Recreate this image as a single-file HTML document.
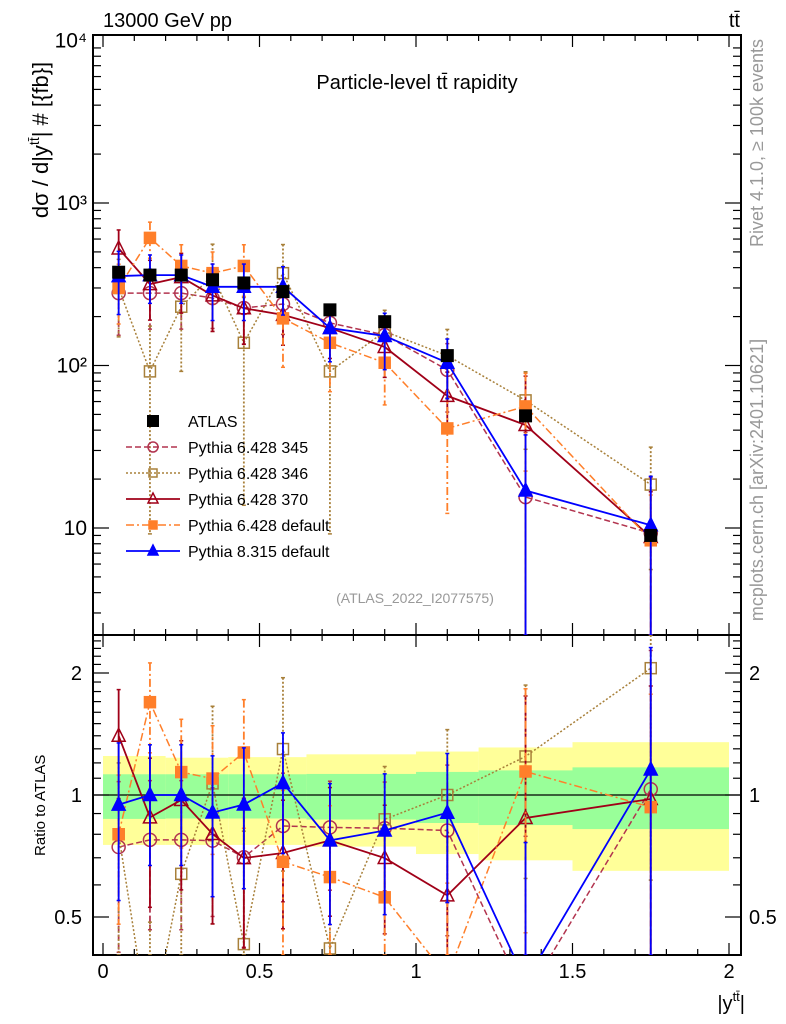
<!DOCTYPE html>
<html><head><meta charset="utf-8"><style>
html,body{margin:0;padding:0;background:#fff;}
svg{display:block;font-family:"Liberation Sans",sans-serif;}
</style></head><body>
<svg id="chart" width="786" height="1024" viewBox="0 0 786 1024" xmlns="http://www.w3.org/2000/svg">
<g id="bands"></g>
<g id="grid"></g>
<g id="series"></g>
<g id="legend"></g>
<text x="103" y="27" font-size="20">13000 GeV pp</text>
<text x="740" y="27" font-size="20" text-anchor="end">tt̄</text>
<text x="417" y="89" font-size="20" text-anchor="middle">Particle-level tt̄ rapidity</text>
<text x="415" y="603" font-size="14" fill="#999" text-anchor="middle">(ATLAS_2022_I2077575)</text>
<text transform="translate(763,143) rotate(-90)" font-size="18" fill="#999" text-anchor="middle">Rivet 4.1.0, ≥ 100k events</text>
<text transform="translate(763,480) rotate(-90)" font-size="18" fill="#999" text-anchor="middle">mcplots.cern.ch [arXiv:2401.10621]</text>
<text transform="translate(48,140) rotate(-90)" font-size="22" text-anchor="middle">dσ / d|y<tspan font-size="14" dy="-9">tt̄</tspan><tspan dy="9">| # [{fb}]</tspan></text>
<text transform="translate(45,856) rotate(-90)" font-size="15">Ratio to ATLAS</text>
<text x="745" y="1010" font-size="20" text-anchor="end">|y<tspan font-size="13" dy="-9">tt̄</tspan><tspan dy="9">|</tspan></text>
</svg>
<script>
const xCenters=[0.05,0.15,0.25,0.35,0.45,0.575,0.725,0.9,1.1,1.35,1.75];
const atlas=[375,360,360,337,322,285,220,186,115,49,9.0];
const p345=[279,279,279,260,226,239,183,154,94,15.5,9.3];
const p346=[300,92,230,360,138,370,92,162,115,61,18.5];
const p370=[525,317,350,270,225,205,170,130,65,43,8.8];
const p6def=[300,610,410,370,410,195,138,104,41,56,8.4];
const p8=[355,360,360,305,305,305,170,152,104,17,10.4];
const e345=[0.45,0.4,0.4,0.35,0.4,0.35,0.3,0.3,0.45,1.5,1.2];
const e346=[0.5,0.9,0.6,0.55,0.9,0.5,0.9,0.35,0.45,0.5,0.7];
const e370=[0.3,0.4,0.4,0.4,0.4,0.35,0.35,0.35,0.4,1.0,0.9];
const e6def=[0.4,0.25,0.35,0.35,0.35,0.5,0.5,0.45,0.7,0.6,0.9];
const e8=[0.42,0.33,0.33,0.38,0.38,0.33,0.38,0.38,0.4,1.2,1.0];
const bandEdges=[0,0.2,0.4,0.65,1.0,1.2,1.5,2.0];
const greenUp=[1.125,1.125,1.125,1.127,1.14,1.15,1.17];
const greenLo=[0.873,0.875,0.875,0.87,0.853,0.843,0.824];
const yellowUp=[1.248,1.236,1.24,1.26,1.28,1.31,1.35];
const yellowLo=[0.753,0.753,0.753,0.746,0.715,0.69,0.65];
const xTicks=[0,0.5,1,1.5,2];
const mainTicks=[10,100,1000,10000];
const mainTickLabels=["10","10²","10³","10⁴"];
const ratioTicks=[0.5,1,2];
const ratioTickLabels=["0.5","1","2"];

const NS="http://www.w3.org/2000/svg";
const L=93,R=741,T=35,M=635,B=955;
const X=v=>103+v*313;
const Y=v=>528-(Math.log10(v)-1)*162.5;
const YR=v=>795-Math.log2(v)*122;
const yMainMin=Math.pow(10,1-(M-528)/162.5);
const rMin=Math.pow(2,-(B-795)/122), rMax=Math.pow(2,(795-M)/122);
function mk(tag,attrs,parent){const e=document.createElementNS(NS,tag);for(const k in attrs)e.setAttribute(k,attrs[k]);parent.appendChild(e);return e;}
const gB=document.getElementById('bands'),gG=document.getElementById('grid'),gS=document.getElementById('series'),gL=document.getElementById('legend');

for(let i=0;i<bandEdges.length-1;i++){
  const x0=X(bandEdges[i]),x1=X(bandEdges[i+1]);
  const y=mk('rect',{x:x0,y:YR(yellowUp[i]),width:x1-x0,height:YR(yellowLo[i])-YR(yellowUp[i]),fill:'#ffff99'},gB);
  
  
  const g=mk('rect',{x:x0,y:YR(greenUp[i]),width:x1-x0,height:YR(greenLo[i])-YR(greenUp[i]),fill:'#99ff99'},gB);
  
  
}
mk('line',{x1:L,x2:R,y1:YR(1),y2:YR(1),stroke:'#000','stroke-width':1.2},gG);
mk('rect',{x:L,y:T,width:R-L,height:M-T,fill:'none',stroke:'#000','stroke-width':2},gG);
mk('rect',{x:L,y:M,width:R-L,height:B-M,fill:'none',stroke:'#000','stroke-width':2},gG);
for(let k=0;k<=20;k++){const v=k/10,x=X(v),big=k%5===0?12:6;
  [[T,1],[M,-1],[M,1],[B,-1]].forEach(([y0,d])=>mk('line',{x1:x,x2:x,y1:y0,y2:y0+d*big,stroke:'#000','stroke-width':1.2},gG));}
xTicks.forEach(v=>{const t=mk('text',{x:X(v),y:978,'font-size':20,'text-anchor':'middle'},gG);t.textContent=String(v);
  
  });
for(let d=0;d<4;d++)for(let m=1;m<10;m++){const v=Math.pow(10,d)*m;if(v<yMainMin||v>10000)continue;const y=Y(v),len=m===1?16:8;
  mk('line',{x1:L,x2:L+len,y1:y,y2:y,stroke:'#000','stroke-width':1.2},gG);mk('line',{x1:R,x2:R-len,y1:y,y2:y,stroke:'#000','stroke-width':1.2},gG);}
mainTicks.forEach((v,i)=>{const t=mk('text',{x:87,y:Y(v)+7,'font-size':21,'text-anchor':'end'},gG);t.textContent=mainTickLabels[i];
  
  });
for(let v=0.4;v<=2.5;v+=0.1){const r=Math.round(v*10)/10;if(r<rMin||r>rMax)continue;const y=YR(r),len=(r===0.5||r===1||r===2)?16:8;
  mk('line',{x1:L,x2:L+len,y1:y,y2:y,stroke:'#000','stroke-width':1.2},gG);mk('line',{x1:R,x2:R-len,y1:y,y2:y,stroke:'#000','stroke-width':1.2},gG);}
ratioTicks.forEach((v,i)=>{[[82,'end'],[749,'start']].forEach(([x,a])=>{const t=mk('text',{x:x,y:YR(v)+7,'font-size':20,'text-anchor':a},gG);t.textContent=ratioTickLabels[i];
  
  });});

const defs=[
 {name:'pythia-6-345',label:'Pythia 6.428 345',vals:p345,err:e345,color:'#b2344f',dash:'6,3',marker:'circle',fill:'none',w:1.5},
 {name:'pythia-6-346',label:'Pythia 6.428 346',vals:p346,err:e346,color:'#a8803a',dash:'2,2',marker:'square',fill:'none',w:1.5},
 {name:'pythia-6-370',label:'Pythia 6.428 370',vals:p370,err:e370,color:'#a00018',dash:'',marker:'triangle',fill:'none',w:1.8},
 {name:'pythia-6-default',label:'Pythia 6.428 default',vals:p6def,err:e6def,color:'#ff7f2a',dash:'8,3,2,3',marker:'square',fill:'#ff7f2a',w:1.5},
 {name:'pythia-8-default',label:'Pythia 8.315 default',vals:p8,err:e8,color:'#0000ff',dash:'',marker:'triangle',fill:'#0000ff',w:1.8}
];
function marker(type,x,y,col,fill,parent,small){
  const s=small?5:6.5;
  if(type==='circle')return mk('circle',{cx:x,cy:y,r:s,fill:fill,stroke:col,'stroke-width':1.5},parent);
  if(type==='square')return mk('rect',{x:x-s+1,y:y-s+1,width:2*s-2,height:2*s-2,fill:fill,stroke:col,'stroke-width':1.5},parent);
  return mk('polygon',{points:`${x},${y-s-1} ${x-s},${y+s-1} ${x+s},${y+s-1}`,fill:fill,stroke:col,'stroke-width':1.5},parent);
}
function clampMain(v){return Math.min(Math.max(v,yMainMin),10000);}
function clampR(v){return Math.min(Math.max(v,rMin),rMax);}
const clipMain=mk('clipPath',{id:'cm'},gS);mk('rect',{x:L,y:T,width:R-L,height:M-T},clipMain);
const clipR=mk('clipPath',{id:'cr'},gS);mk('rect',{x:L,y:M,width:R-L,height:B-M},clipR);
defs.forEach(d=>{
  const g=mk('g',{'clip-path':'url(#cm)'},gS);
  
  
  const gr=mk('g',{'clip-path':'url(#cr)'},gS);
  
  
  mk('polyline',{points:xCenters.map((x,i)=>X(x)+','+Y(d.vals[i])).join(' '),fill:'none',stroke:d.color,'stroke-width':d.w,'stroke-dasharray':d.dash},g);
  mk('polyline',{points:xCenters.map((x,i)=>X(x)+','+YR(d.vals[i]/atlas[i])).join(' '),fill:'none',stroke:d.color,'stroke-width':d.w,'stroke-dasharray':d.dash},gr);
  xCenters.forEach((x,i)=>{
    const v=d.vals[i],e=d.err[i],hi=v*(1+e),lo=Math.max(v*(1-e),1e-3);
    const px=X(x);
    [[g,Y(clampMain(hi)),Y(clampMain(lo))],[gr,YR(clampR(hi/atlas[i])),YR(clampR(lo/atlas[i]))]].forEach(([gg,y1,y2])=>{
      mk('line',{x1:px,x2:px,y1:y1,y2:y2,stroke:d.color,'stroke-width':1.8,'stroke-dasharray':d.dash},gg);
      mk('line',{x1:px-2,x2:px+2,y1:y1,y2:y1,stroke:d.color,'stroke-width':1.5},gg);
      mk('line',{x1:px-2,x2:px+2,y1:y2,y2:y2,stroke:d.color,'stroke-width':1.5},gg);
    });
    const m=marker(d.marker,px,Y(v),d.color,d.fill,g);
    
    
    const mr=marker(d.marker,px,YR(v/atlas[i]),d.color,d.fill,gr);
    
    
  });
});
const ga=mk('g',{'clip-path':'url(#cm)'},gS);


xCenters.forEach((x,i)=>{const r=mk('rect',{x:X(x)-6.5,y:Y(atlas[i])-6.5,width:13,height:13,fill:'#000'},ga);
  
  });
const rows=[{label:'ATLAS',marker:'atlas'}].concat(defs);
rows.forEach((d,i)=>{
  const y=421+i*26;
  const g=mk('g',{},gL);
  
  
  if(d.marker==='atlas'){mk('rect',{x:147,y:y-6,width:12,height:12,fill:'#000'},g);}
  else{mk('line',{x1:126,x2:180,y1:y,y2:y,stroke:d.color,'stroke-width':d.w,'stroke-dasharray':d.dash},g);marker(d.marker,153,y,d.color,d.fill,g,true);}
  const t=mk('text',{x:188,y:y+6,'font-size':16},g);t.textContent=d.label;
});
</script>
</body></html>
